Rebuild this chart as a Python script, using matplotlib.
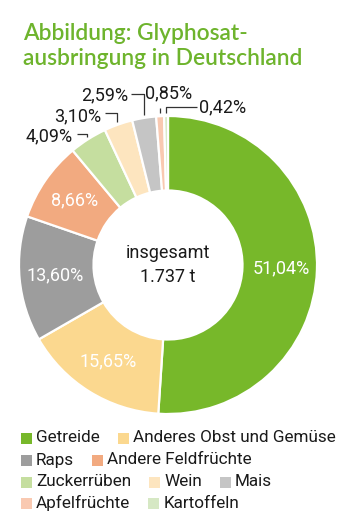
import numpy as np
import matplotlib
matplotlib.use("Agg")
import matplotlib.pyplot as plt
from matplotlib.patches import Rectangle

# ---------------- data ----------------
categories = ["Getreide", "Anderes Obst und Gemüse", "Raps", "Andere Feldfrüchte",
              "Zuckerrüben", "Wein", "Mais", "Apfelfrüchte", "Kartoffeln"]
shares = [51.04, 15.65, 13.60, 8.66, 4.09, 3.10, 2.59, 0.85, 0.42]
colors = ["#77b82a", "#fbd88f", "#9d9d9d", "#f2aa80", "#c5de9f",
          "#fde5bf", "#c5c5c5", "#f9c9b1", "#d6e8c4"]
center_lines = ["insgesamt", "1.737 t"]
title_lines = ["Abbildung: Glyphosat-", "ausbringung in Deutschland"]
legend_rows = [["Getreide", "Anderes Obst und Gemüse"],
               ["Raps", "Andere Feldfrüchte"],
               ["Zuckerrüben", "Wein", "Mais"],
               ["Apfelfrüchte", "Kartoffeln"]]

W, H = 355, 531
fig = plt.figure(figsize=(W / 100, H / 100), dpi=100)
fig.patch.set_facecolor("white")

# ---------------- donut ----------------
cx, cy, R = 168, 265, 149
ax = fig.add_axes([(cx - R) / W, (H - cy - R) / H, 2 * R / W, 2 * R / H])
ax.axis("off")

wedges, _ = ax.pie(shares, colors=colors, startangle=90, counterclock=False,
                   radius=1, wedgeprops=dict(width=0.5, edgecolor="white", linewidth=1.6))
ax.set_xlim(-1, 1)
ax.set_ylim(-1, 1)
ax.set_aspect("equal")

def fmt(v):
    return f"{v:.2f}".replace(".", ",") + "%"

pct_font = dict(family="Roboto", fontsize=13, weight="normal")

# inner labels for big slices
for w, v in zip(wedges, shares):
    if v < 5:
        continue
    mid = np.deg2rad((w.theta1 + w.theta2) / 2)
    ax.text(0.76 * np.cos(mid), 0.76 * np.sin(mid), fmt(v), color="white",
            ha="center", va="center", **pct_font)

# leader-line labels for small slices (layout in axis units)
layouts = {
    "Zuckerrüben": dict(elbow_y=0.88, end_x=-0.61, lx=-0.64, ly=0.865, ha="right"),
    "Wein":        dict(elbow_y=1.02, end_x=-0.42, lx=-0.45, ly=1.00, ha="right"),
    "Mais":        dict(elbow_y=1.148, end_x=-0.25, lx=-0.27, ly=1.14, ha="right"),
    "Apfelfrüchte": dict(elbow_y=1.054, end_x=None, lx=0.005, ly=1.15, ha="center"),
    "Kartoffeln":  dict(elbow_y=1.06, end_x=0.195, lx=0.21, ly=1.06, ha="left"),
}
for w, v, name in zip(wedges, shares, categories):
    if name not in layouts:
        continue
    L = layouts[name]
    mid = np.deg2rad((w.theta1 + w.theta2) / 2)
    sx, sy = 1.02 * np.cos(mid), 1.02 * np.sin(mid)
    xs = [sx, sx]
    ys = [sy, L["elbow_y"]]
    if L["end_x"] is not None:
        xs.append(L["end_x"])
        ys.append(L["elbow_y"])
    ax.plot(xs, ys, color="#333333", lw=0.9, clip_on=False, solid_capstyle="butt")
    ax.text(L["lx"], L["ly"], fmt(v), color="#1a1a1a", ha=L["ha"], va="center",
            clip_on=False, **pct_font)

ax.text(0, 0.08, center_lines[0], ha="center", va="center", color="#1a1a1a",
        family="Roboto", fontsize=13)
ax.text(0, -0.08, center_lines[1], ha="center", va="center", color="#1a1a1a",
        family="Roboto", fontsize=13)

# ---------------- overlay in pixel coords ----------------
ov = fig.add_axes([0, 0, 1, 1])
ov.set_xlim(0, W)
ov.set_ylim(H, 0)
ov.axis("off")

title_color = "#6eb42d"
ov.text(23, 40, title_lines[0], color=title_color, family="Lato", weight="semibold",
        fontsize=16.4, ha="left", va="baseline")
ov.text(23, 65, title_lines[1], color=title_color, family="Lato", weight="semibold",
        fontsize=16.4, ha="left", va="baseline")

renderer = fig.canvas.get_renderer()
color_of = dict(zip(categories, colors))
row_y = [438, 460, 482, 503]
sq = 11
for yrow, row in zip(row_y, legend_rows):
    x = 21
    for name in row:
        ov.add_patch(Rectangle((x, yrow - sq / 2), sq, sq, color=color_of[name], lw=0))
        t = ov.text(x + sq + 4, yrow, name, ha="left", va="center", color="#1a1a1a",
                    family="Roboto", fontsize=12.3)
        bb = t.get_window_extent(renderer)
        x = x + sq + 4 + bb.width + 18

fig.savefig("out.png", dpi=100, facecolor="white")
